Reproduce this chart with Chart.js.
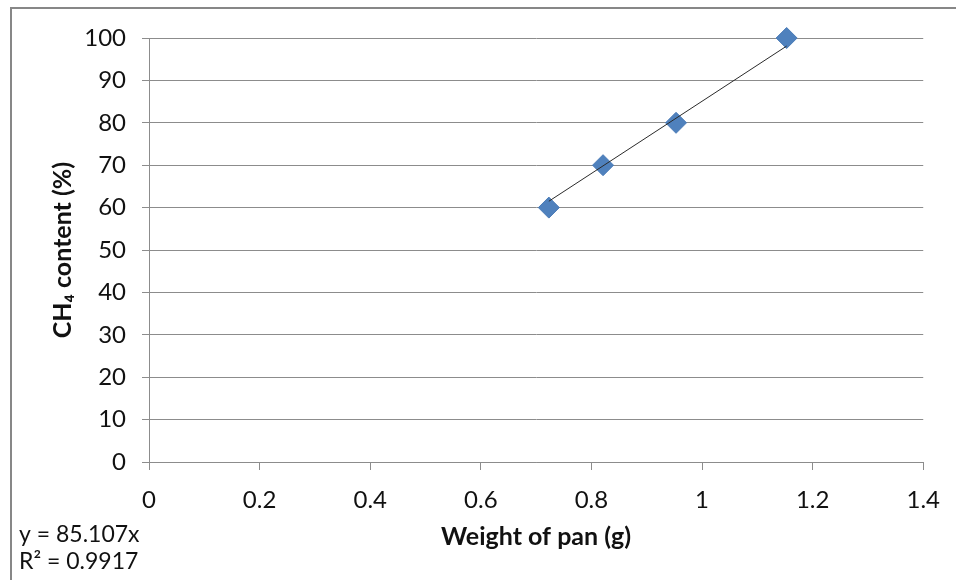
<!DOCTYPE html>
<html>
<head>
<meta charset="utf-8">
<script src="https://cdn.jsdelivr.net/npm/chart.js@4.4.0/dist/chart.umd.min.js"></script>
<style>
    html, body { margin: 0; padding: 0; background: #fff; }
    canvas { display: block; }
</style>
</head>
<body>
<canvas id="ch4Chart" width="956" height="580"></canvas>
<script>
// measured points
const panWeight = [0.723, 0.821, 0.953, 1.153];
const ch4Content = [60, 70, 80, 100];

// trendline ends as drawn in the picture
const trendX = [0.723, 1.153];
const trendY = [61.5, 98.1];

const equationLines = ['y = 85.107x', 'R\u00b2 = 0.9917'];

const xTitle = 'Weight of pan (g)';
const yTitle = 'CH\u2084 content (%)';

const fontFamily = 'Lato, "Open Sans", "DejaVu Sans", sans-serif';
const gridGray = '#8c8c8c';
const textColor = '#111';

const scatterPoints = panWeight.map(function(x, i) { return { x: x, y: ch4Content[i] }; });
const trendPoints = trendX.map(function(x, i) { return { x: x, y: trendY[i] }; });

// outer frame and equation text
const framePlugin = {
    id: 'frame',
    beforeDraw: function(chart) {
        const ctx = chart.ctx;
        ctx.save();
        ctx.fillStyle = '#fff';
        ctx.fillRect(0, 0, chart.width, chart.height);
        ctx.strokeStyle = '#878787';
        ctx.lineWidth = 2;
        ctx.beginPath();
        ctx.moveTo(11, chart.height);
        ctx.lineTo(11, 8);
        ctx.lineTo(chart.width, 8);
        ctx.stroke();
        ctx.restore();
    },
    afterDraw: function(chart) {
        const ctx = chart.ctx;
        ctx.save();
        ctx.fillStyle = textColor;
        ctx.font = '23px ' + fontFamily;
        ctx.textBaseline = 'middle';
        ctx.textAlign = 'left';
        ctx.fillText(equationLines[0], 19, 535);
        ctx.fillText(equationLines[1], 19, 562);
        ctx.restore();
    }
};

const ctx = document.getElementById('ch4Chart').getContext('2d');
new Chart(ctx, {
    type: 'scatter',
    data: {
        datasets: [{
            type: 'line',
            label: 'trend',
            data: trendPoints,
            borderColor: '#2b2b2b',
            borderWidth: 1,
            pointRadius: 0,
            fill: false,
            clip: false,
            order: 0
        }, {
            label: 'CH4',
            data: scatterPoints,
            pointStyle: 'rectRot',
            pointRadius: 10.5,
            backgroundColor: '#4f81bd',
            borderColor: '#4a7bb7',
            borderWidth: 1,
            clip: false,
            order: 1
        }]
    },
    options: {
        responsive: false,
        animation: false,
        devicePixelRatio: 1,
        layout: { padding: { top: 38, right: 31, left: 0, bottom: 0 } },
        plugins: {
            legend: { display: false },
            tooltip: { enabled: false }
        },
        scales: {
            x: {
                type: 'linear',
                min: 0,
                max: 1.4,
                afterFit: function(scale) { scale.height = 118; },
                ticks: {
                    stepSize: 0.2,
                    padding: 16,
                    color: textColor,
                    font: { family: fontFamily, size: 24 },
                    maxRotation: 0,
                    callback: function(value) { return String(+value.toFixed(1)); }
                },
                grid: {
                    drawOnChartArea: false,
                    drawTicks: true,
                    tickLength: 8,
                    tickColor: gridGray
                },
                border: { color: gridGray, width: 1 },
                title: {
                    display: true,
                    text: xTitle,
                    color: textColor,
                    font: { family: fontFamily, size: 25, weight: 'bold' },
                    padding: { top: 0, bottom: 28 }
                }
            },
            y: {
                min: 0,
                max: 100,
                afterFit: function(scale) { scale.width = 149; },
                ticks: {
                    stepSize: 10,
                    padding: 16,
                    color: textColor,
                    font: { family: fontFamily, size: 24 }
                },
                grid: {
                    color: gridGray,
                    tickColor: gridGray,
                    tickLength: 7,
                    lineWidth: 1
                },
                border: { color: gridGray, width: 1 },
                title: {
                    display: true,
                    text: yTitle,
                    color: textColor,
                    font: { family: fontFamily, size: 25, weight: 'bold' },
                    padding: { top: 48, bottom: 0 }
                }
            }
        }
    },
    plugins: [framePlugin]
});
</script>
</body>
</html>
